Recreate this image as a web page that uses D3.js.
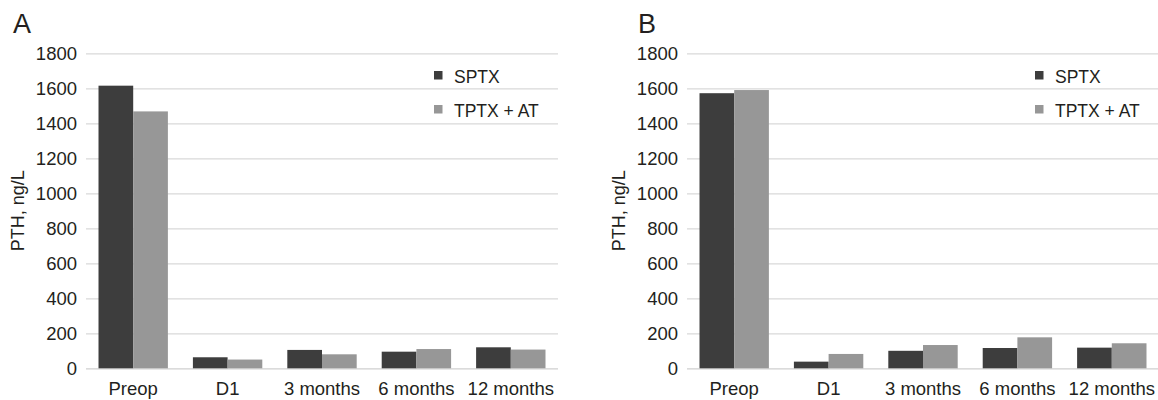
<!DOCTYPE html>
<html>
<head>
<meta charset="utf-8">
<script src="https://cdn.jsdelivr.net/npm/d3@7"></script>
<style>
  body { margin: 0; background: #fff; }
  text { font-family: "Liberation Sans", Arial, Helvetica, sans-serif; fill: #231f20; }
</style>
</head>
<body>
<div id="chart"></div>
<script>
// data
const categories = ['Preop', 'D1', '3 months', '6 months', '12 months'];
const seriesNames = ['SPTX', 'TPTX + AT'];
const panelLabels = ['A', 'B'];
const sptxA = [1615, 63, 105, 95, 120];
const tptxA = [1468, 50, 80, 110, 107];
const sptxB = [1572, 38, 100, 116, 118];
const tptxB = [1590, 82, 133, 177, 143];
const yTicks = [0, 200, 400, 600, 800, 1000, 1200, 1400, 1600, 1800];
const yLabel = 'PTH, ng/L';

const colors = ['#3d3d3d', '#979797'];
const width = 1158;
const height = 400;

const svg = d3.select('#chart')
  .append('svg')
    .attr('width', width)
    .attr('height', height);

function drawPanel(offsetX, label, seriesA, seriesB) {
  const left = offsetX + 86;
  const right = left + 472;
  const top = 53.3;
  const bottom = 368.3;

  const g = svg.append('g');

  const x = d3.scaleBand()
    .domain(categories)
    .range([left, right])
    .paddingInner(0.265)
    .paddingOuter(0.1325);

  const xInner = d3.scaleBand()
    .domain(seriesNames)
    .range([0, x.bandwidth()]);

  const y = d3.scaleLinear()
    .domain([0, 1800])
    .range([bottom, top]);

  // gridlines + tick labels
  const yAxis = d3.axisLeft(y)
    .tickValues(yTicks)
    .tickSize(-(right - left))
    .tickPadding(9)
    .tickFormat(d3.format('d'));

  g.append('g')
      .attr('transform', 'translate(' + left + ',0)')
      .call(yAxis)
      .call(a => a.select('.domain').remove())
      .call(a => a.selectAll('line')
        .attr('stroke', (d) => d === 0 ? '#cfcfcf' : '#d9d9d9')
        .attr('stroke-width', 1.3))
      .call(a => a.selectAll('text')
        .attr('font-size', 18.5)
        .attr('fill', '#231f20')
        .style('font-family', '"Liberation Sans", Arial, sans-serif'));

  // bars
  const rows = categories.map((c, i) => ({ cat: c, vals: [seriesA[i], seriesB[i]] }));

  const groups = g.selectAll('g.cat')
    .data(rows)
    .enter()
    .append('g')
      .attr('class', 'cat')
      .attr('transform', (d) => 'translate(' + x(d.cat) + ',0)');

  groups.selectAll('rect')
    .data((d) => d.vals.map((v, k) => ({ name: seriesNames[k], value: v, k: k })))
    .enter()
    .append('rect')
      .attr('x', (d) => xInner(d.name))
      .attr('y', (d) => y(d.value))
      .attr('width', xInner.bandwidth())
      .attr('height', (d) => y(0) - y(d.value))
      .attr('fill', (d) => colors[d.k]);

  // category labels
  const xAxis = d3.axisBottom(x).tickSize(0).tickPadding(14);
  g.append('g')
      .attr('transform', 'translate(0,' + bottom + ')')
      .call(xAxis)
      .call(a => a.select('.domain').remove())
      .call(a => a.selectAll('text')
        .attr('font-size', 18.5)
        .attr('fill', '#231f20')
        .style('font-family', '"Liberation Sans", Arial, sans-serif'));

  // y axis title
  g.append('text')
    .attr('transform', 'translate(' + (offsetX + 24) + ',' + ((top + bottom) / 2) + ') rotate(-90)')
    .attr('text-anchor', 'middle')
    .attr('font-size', 18)
    .text(yLabel);

  // panel letter
  g.append('text')
    .attr('x', offsetX + (label === 'A' ? 13 : 37))
    .attr('y', 33)
    .attr('font-size', 27)
    .text(label);

  // legend
  const legend = g.append('g')
    .attr('transform', 'translate(' + (left + 348) + ',71)');

  seriesNames.forEach((name, k) => {
    legend.append('rect')
      .attr('x', 0)
      .attr('y', k * 34)
      .attr('width', 8.5)
      .attr('height', 8.5)
      .attr('fill', colors[k]);
    legend.append('text')
      .attr('x', 20)
      .attr('y', k * 34 + 11.5)
      .attr('font-size', 17.5)
      .text(name);
  });
}

drawPanel(0, panelLabels[0], sptxA, tptxA);
drawPanel(601, panelLabels[1], sptxB, tptxB);
</script>
</body>
</html>
